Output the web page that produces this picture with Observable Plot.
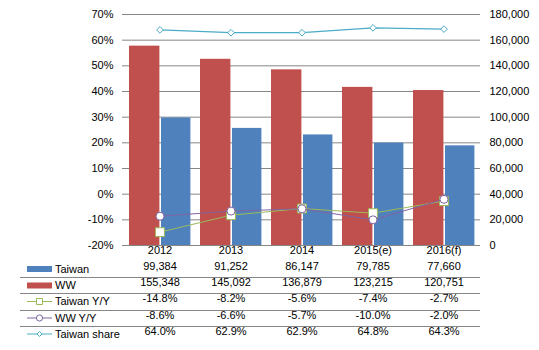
<!DOCTYPE html>
<html>
<head>
<meta charset="utf-8">
<script src="https://cdn.jsdelivr.net/npm/d3@7"></script>
<script src="https://cdn.jsdelivr.net/npm/@observablehq/plot@0.6"></script>
<style>
  html, body { margin: 0; padding: 0; background: #fff; }
  svg { font-family: "Liberation Sans", Arial, sans-serif; }
</style>
</head>
<body>
<div id="chart"></div>
<script>
const categories = ["2012", "2013", "2014", "2015(e)", "2016(f)"];
const taiwan = [99384, 91252, 86147, 79785, 77660];
const ww = [155348, 145092, 136879, 123215, 120751];
const taiwanYY = [-14.8, -8.2, -5.6, -7.4, -2.7];
const wwYY = [-8.6, -6.6, -5.7, -10.0, -2.0];
const taiwanShare = [64.0, 62.9, 62.9, 64.8, 64.3];
const pctTicks = [-20, -10, 0, 10, 20, 30, 40, 50, 60, 70];
const rowLabels = ["Taiwan", "WW", "Taiwan Y/Y", "WW Y/Y", "Taiwan share"];

const C = {taiwan: "#4F81BD", ww: "#C0504D", tyy: "#9BBB59", wyy: "#8064A2", share: "#4BACC6", grid: "#868686"};

// right axis: 0..180,000 maps onto -20%..70%
const toPct = v => v / 2000 - 20;
const idx = categories.map((_, i) => i);
const fmt = d3.format(",");
const pfmt = v => v.toFixed(1) + "%";

const rowDy = [8, 24, 40.5, 56.5, 73, 89];
const rows = [
  categories,
  taiwan.map(fmt),
  ww.map(fmt),
  taiwanYY.map(pfmt),
  wwYY.map(pfmt),
  taiwanShare.map(pfmt)
];

const chart = Plot.plot({
  width: 539,
  height: 350,
  marginTop: 14,
  marginBottom: 105,
  marginLeft: 122,
  marginRight: 59,
  style: {fontFamily: "Liberation Sans, Arial, sans-serif", fontSize: "11px", color: "#000"},
  x: {type: "band", domain: categories, padding: 0, axis: null},
  y: {domain: [-20, 70], axis: null},
  marks: [
    Plot.ruleY(pctTicks, {stroke: C.grid, strokeWidth: 1}),
    Plot.axisY(pctTicks, {anchor: "left", tickSize: 0, tickPadding: 9, tickFormat: d => d + "%", fontSize: 11}),
    Plot.axisY(pctTicks, {anchor: "right", tickSize: 0, tickPadding: 9, tickFormat: d => fmt((d + 20) * 2000), fontSize: 11}),
    Plot.barY(idx, {x: i => categories[i], y1: -20, y2: i => toPct(ww[i]), fill: C.ww, insetLeft: 5, insetRight: 35.6}),
    Plot.barY(idx, {x: i => categories[i], y1: -20, y2: i => toPct(taiwan[i]), fill: C.taiwan, insetLeft: 37, insetRight: 4.6}),
    Plot.line(idx, {x: i => categories[i], y: i => taiwanYY[i], stroke: C.tyy, strokeWidth: 1}),
    Plot.dot(idx, {x: i => categories[i], y: i => taiwanYY[i], symbol: "square", r: 5, fill: "#fff", stroke: C.tyy, strokeWidth: 1}),
    Plot.line(idx, {x: i => categories[i], y: i => wwYY[i], stroke: C.wyy, strokeWidth: 1}),
    Plot.dot(idx, {x: i => categories[i], y: i => wwYY[i], symbol: "circle", r: 4, fill: "#fff", stroke: C.wyy, strokeWidth: 1}),
    Plot.line(idx, {x: i => categories[i], y: i => taiwanShare[i], stroke: C.share, strokeWidth: 1.2}),
    Plot.dot(idx, {x: i => categories[i], y: i => taiwanShare[i], symbol: "diamond2", r: 3, fill: "#fff", stroke: C.share, strokeWidth: 1}),
    ...rows.map((r, k) => Plot.text(idx, {x: i => categories[i], text: i => r[i], frameAnchor: "bottom", dy: rowDy[k], fontSize: 11, fill: "#000"}))
  ]
});

document.getElementById("chart").appendChild(chart);

// data-table row lines and legend keys
const svg = d3.select(chart);
const g = svg.append("g").attr("text-anchor", "start");
[277.5, 293.5, 310.5, 326.5].forEach(y => {
  g.append("line").attr("x1", 20).attr("x2", 480).attr("y1", y).attr("y2", y).attr("stroke", C.grid).attr("stroke-width", 1);
});
const rowY = [269, 285.5, 301.5, 318, 334];
const keyColors = [C.taiwan, C.ww, C.tyy, C.wyy, C.share];
rowLabels.forEach((lab, k) => {
  const y = rowY[k];
  if (k < 2) {
    g.append("rect").attr("x", 27).attr("y", y - 3).attr("width", 25).attr("height", 6).attr("fill", keyColors[k]);
  } else {
    g.append("line").attr("x1", 27).attr("x2", 52).attr("y1", y).attr("y2", y).attr("stroke", keyColors[k]).attr("stroke-width", 1);
    const sym = k === 2 ? d3.symbolSquare : k === 3 ? d3.symbolCircle : d3.symbolDiamond2;
    const size = k === 2 ? 36 : k === 3 ? 30 : 16;
    g.append("path").attr("d", d3.symbol(sym, size)()).attr("transform", `translate(39.5,${y})`)
      .attr("fill", "#fff").attr("stroke", keyColors[k]).attr("stroke-width", 1);
  }
  g.append("text").attr("x", 55).attr("y", y).attr("dy", "0.35em").attr("font-size", 11).attr("fill", "#000").attr("text-anchor", "start").text(lab);
});
</script>
</body>
</html>
